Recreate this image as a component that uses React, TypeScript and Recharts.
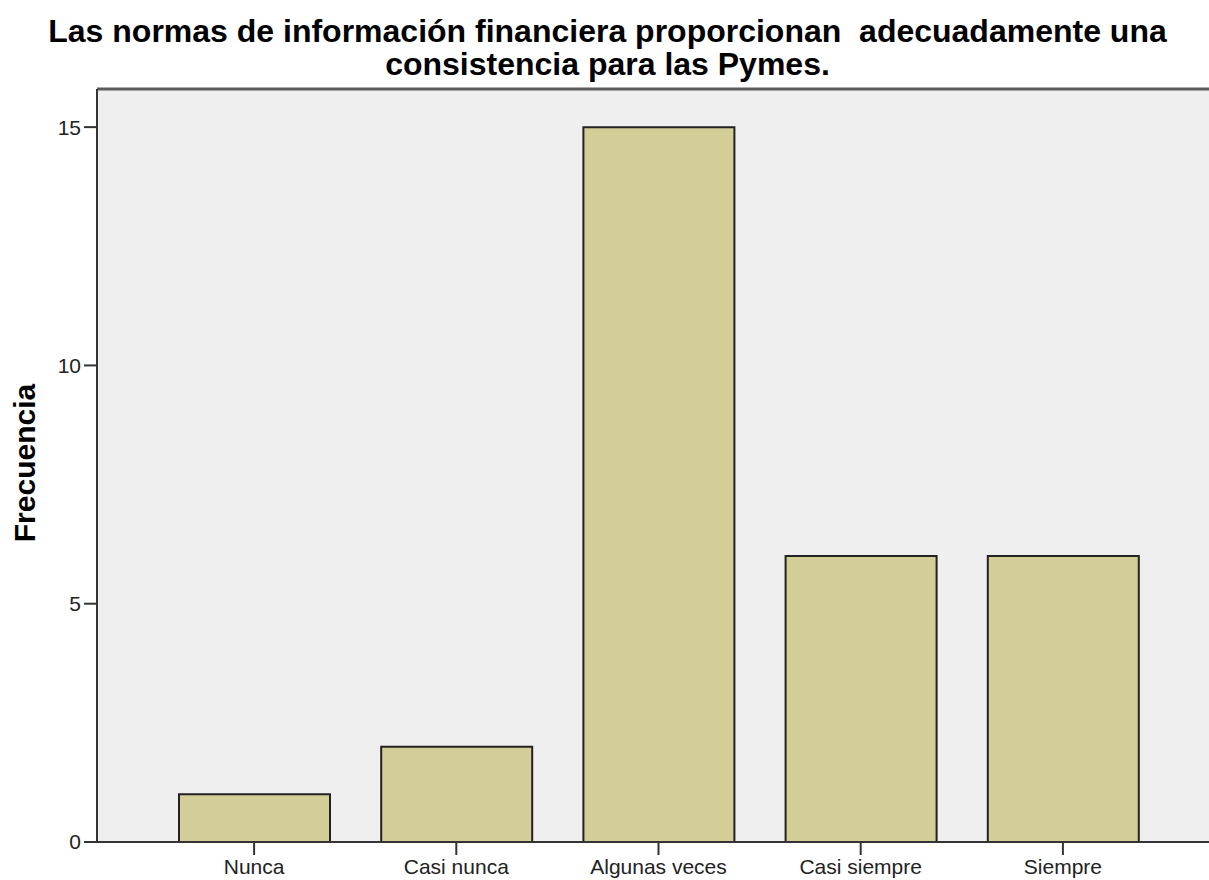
import React from "react";
import {
  BarChart,
  Bar,
  XAxis,
  YAxis,
  CartesianGrid,
  ReferenceLine,
} from "recharts";

const categories = ["Nunca", "Casi nunca", "Algunas veces", "Casi siempre", "Siempre"];
const frecuencias = [1, 2, 15, 6, 6];
const yTicks = [0, 5, 10, 15];

const data = categories.map((name, i) => ({ name, value: frecuencias[i] }));

const FONT = "'Liberation Sans', Arial, sans-serif";
const Y_MAX = 15.8;

export default function App() {
  return (
    <div
      style={{
        position: "absolute",
        left: 0,
        top: 0,
        width: 1209,
        height: 880,
        background: "#fff",
        fontFamily: FONT,
        overflow: "hidden",
      }}
    >
      {/* title */}
      <div
        style={{
          position: "absolute",
          left: 3,
          top: 15,
          width: 1209,
          textAlign: "center",
          fontWeight: "bold",
          fontSize: 32,
          lineHeight: "33px",
          color: "#000",
          whiteSpace: "pre",
        }}
      >
        {"Las normas de información financiera proporcionan  adecuadamente una\nconsistencia para las Pymes."}
      </div>

      {/* y axis title */}
      <div
        style={{
          position: "absolute",
          left: 25,
          top: 463,
          transform: "translate(-50%, -50%) rotate(-90deg)",
          fontWeight: "bold",
          fontSize: 30,
          color: "#000",
          whiteSpace: "nowrap",
        }}
      >
        Frecuencia
      </div>

      <BarChart
        width={1209}
        height={880}
        data={data}
        margin={{ top: 89, right: 0, left: 37, bottom: 8 }}
        barSize={151}
        style={{ position: "absolute", left: 0, top: 0 }}
      >
        <CartesianGrid fill="#efefef" stroke="none" />
        <XAxis
          dataKey="name"
          height={30}
          padding={{ left: 56, right: 45 }}
          tickSize={13}
          tickMargin={4}
          axisLine={{ stroke: "#333", strokeWidth: 2 }}
          tickLine={{ stroke: "#333", strokeWidth: 2 }}
          tick={{ fontSize: 21, fill: "#222", fontFamily: FONT }}
          interval={0}
        />
        <YAxis
          width={60}
          domain={[0, Y_MAX]}
          ticks={yTicks}
          allowDataOverflow
          tickSize={13}
          tickMargin={3}
          axisLine={{ stroke: "#333", strokeWidth: 2 }}
          tickLine={{ stroke: "#333", strokeWidth: 2 }}
          tick={{ fontSize: 21, fill: "#222", fontFamily: FONT }}
        />
        <ReferenceLine y={Y_MAX} stroke="#5a5a5a" strokeWidth={3} />
        <Bar
          dataKey="value"
          fill="#d3ce97"
          stroke="#222"
          strokeWidth={2}
          isAnimationActive={false}
        />
      </BarChart>
    </div>
  );
}
